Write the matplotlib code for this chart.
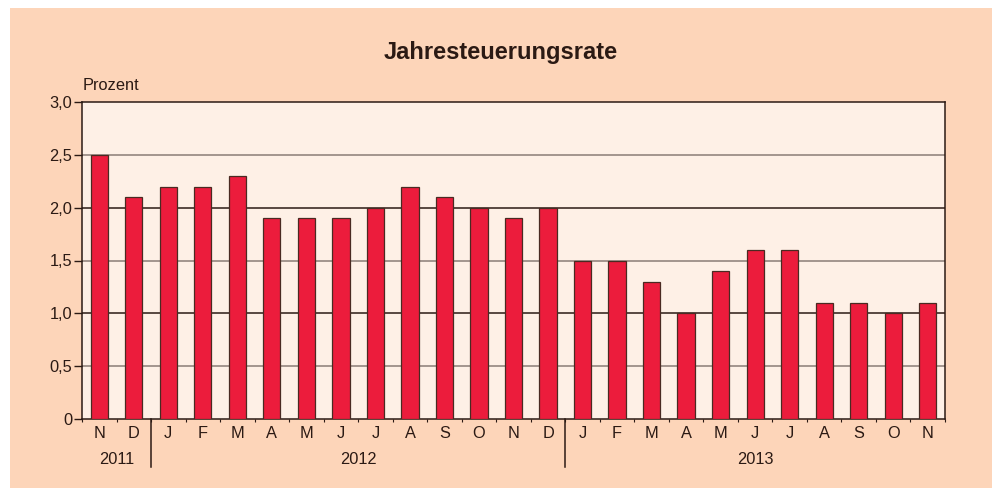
import matplotlib.pyplot as plt
from matplotlib.patches import Rectangle
import numpy as np

plt.rcParams["font.family"] = ["Liberation Sans", "DejaVu Sans"]

# Jahresteuerungsrate in Prozent, Nov 2011 - Nov 2013
months = ["N", "D",
          "J", "F", "M", "A", "M", "J", "J", "A", "S", "O", "N", "D",
          "J", "F", "M", "A", "M", "J", "J", "A", "S", "O", "N"]
values = [2.5, 2.1,
          2.2, 2.2, 2.3, 1.9, 1.9, 1.9, 2.0, 2.2, 2.1, 2.0, 1.9, 2.0,
          1.5, 1.5, 1.3, 1.0, 1.4, 1.6, 1.6, 1.1, 1.1, 1.0, 1.1]
years = ["2011", "2012", "2013"]
year_counts = [2, 12, 11]
yticks = [0, 0.5, 1.0, 1.5, 2.0, 2.5, 3.0]
ytick_labels = ["0", "0,5", "1,0", "1,5", "2,0", "2,5", "3,0"]

outer_bg = "#fdd5b9"
inner_bg = "#fef0e6"
bar_col = "#ec1c3c"
dark = "#2b1a14"
fs = 11.8

W, H = 992, 488
fig = plt.figure(figsize=(W / 100, H / 100), dpi=100, facecolor="white")
fig.patches.append(Rectangle((10 / W, 0), 1 - 10 / W, 1 - 8 / H,
                             transform=fig.transFigure, facecolor=outer_bg,
                             edgecolor="none", zorder=-10))

left, right, top, bottom = 82, 945, 102, 419
ax = fig.add_axes([left / W, 1 - bottom / H, (right - left) / W, (bottom - top) / H])
ax.set_facecolor(inner_bg)

n = len(values)
x = np.arange(n)
ax.bar(x, values, width=0.5, color=bar_col, edgecolor="#4a2a22", linewidth=0.9, zorder=3)

ax.set_xlim(-0.5, n - 0.5)
ax.set_ylim(0, 3.0)
ax.set_yticks(yticks)
ax.set_yticklabels(ytick_labels, fontsize=fs, color=dark)
ax.tick_params(axis="y", length=6, width=1, color=dark, pad=1)

for yv in yticks[1:-1]:
    c = "#8a7d76" if abs((yv * 2) % 2 - 1) < 1e-6 else dark
    ax.axhline(yv, color=c, linewidth=1.1, zorder=1)

for s in ax.spines.values():
    s.set_color(dark)
    s.set_linewidth(1.1)

# month labels
ax.set_xticks(np.arange(n + 1) - 0.5)
ax.set_xticklabels([])
ax.tick_params(axis="x", length=2, width=0.8, color=dark)
trans = ax.get_xaxis_transform()
for i, m in enumerate(months):
    ax.text(i, -15 / (bottom - top), m, ha="center", va="center", fontsize=fs,
            color=dark, transform=trans)

# year labels and separators
start = 0
for yr, cnt in zip(years, year_counts):
    mid = start + (cnt - 1) / 2
    ax.text(mid, -41 / (bottom - top), yr, ha="center", va="center",
            fontsize=fs, color=dark, transform=trans)
    if start > 0:
        ax.plot([start - 0.5, start - 0.5], [0, -48 / (bottom - top)],
                color=dark, linewidth=1.1, transform=trans, clip_on=False)
    start += cnt

fig.text(501 / W, 1 - 52 / H, "Jahresteuerungsrate", ha="center", va="center",
         fontsize=17, fontweight="bold", color=dark)
fig.text(83 / W, 1 - 86 / H, "Prozent", ha="left", va="center",
         fontsize=fs, color=dark)

fig.savefig("out.png", dpi=100, facecolor="white")
